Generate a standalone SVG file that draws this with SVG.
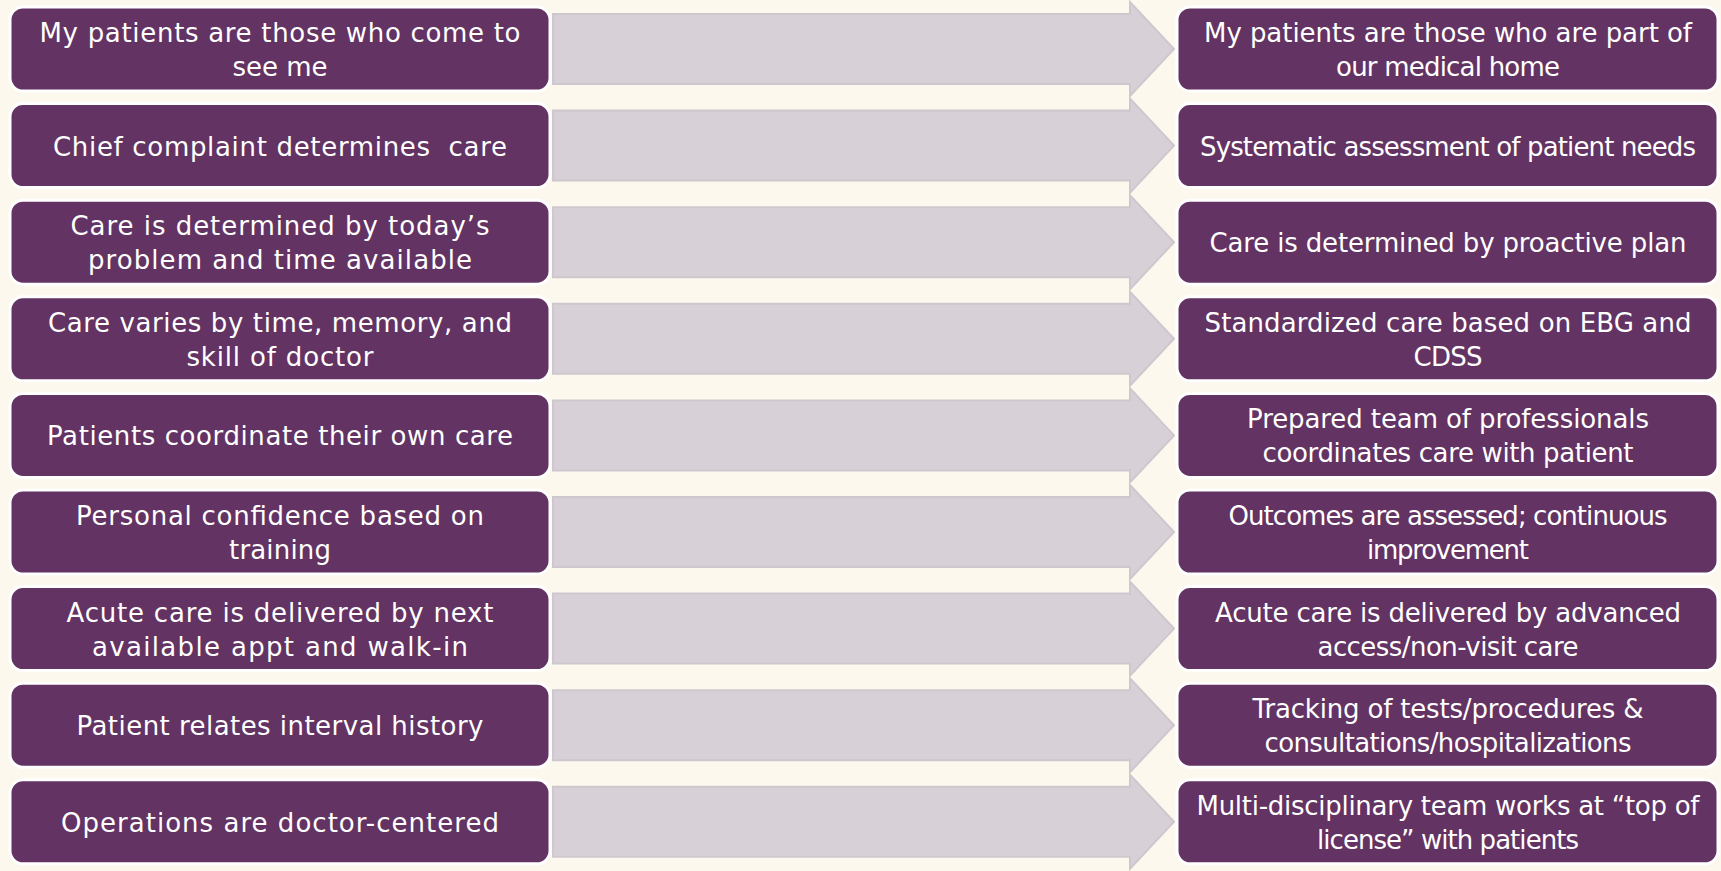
<svg xmlns="http://www.w3.org/2000/svg" width="1721" height="871" viewBox="0 0 1721 871">
<style>
.bg{fill:#fdf8ee}
.arrow{fill:#d7d1d7;stroke:#cec7ce;stroke-width:2}
.box{fill:#633363;stroke:#ffffff;stroke-width:3}
.t{font-family:"DejaVu Sans","Liberation Sans",sans-serif;font-size:26px;fill:#ffffff;text-anchor:middle}
</style>
<defs>
<path id="arr" d="M553,-35 H1130 V-47 L1174,0 L1130,47 V35 H553 Z"/>
</defs>
<rect class="bg" x="0" y="0" width="1721" height="871"/>
<g id="connectors">
<use href="#arr" class="arrow" transform="translate(0,49)"/>
<use href="#arr" class="arrow" transform="translate(0,145.6)"/>
<use href="#arr" class="arrow" transform="translate(0,242.2)"/>
<use href="#arr" class="arrow" transform="translate(0,338.8)"/>
<use href="#arr" class="arrow" transform="translate(0,435.4)"/>
<use href="#arr" class="arrow" transform="translate(0,532)"/>
<use href="#arr" class="arrow" transform="translate(0,628.6)"/>
<use href="#arr" class="arrow" transform="translate(0,725.2)"/>
<use href="#arr" class="arrow" transform="translate(0,821.8)"/>
</g>
<g id="L1"><rect class="box" x="10" y="7" width="540" height="84" rx="13"/><text class="t" x="280" y="42" textLength="481">My patients are those who come to</text><text class="t" x="280" y="76" textLength="95">see me</text></g>
<g id="L2"><rect class="box" x="10" y="103.6" width="540" height="84" rx="13"/><text class="t" x="280" y="155.6" textLength="454" style="white-space:pre">Chief complaint determines  care</text></g>
<g id="L3"><rect class="box" x="10" y="200.2" width="540" height="84" rx="13"/><text class="t" x="280" y="235.2" textLength="419">Care is determined by today’s</text><text class="t" x="280" y="269.2" textLength="384">problem and time available</text></g>
<g id="L4"><rect class="box" x="10" y="296.8" width="540" height="84" rx="13"/><text class="t" x="280" y="331.8" textLength="464">Care varies by time, memory, and</text><text class="t" x="280" y="365.8" textLength="187">skill of doctor</text></g>
<g id="L5"><rect class="box" x="10" y="393.4" width="540" height="84" rx="13"/><text class="t" x="280" y="445.4" textLength="466">Patients coordinate their own care</text></g>
<g id="L6"><rect class="box" x="10" y="490" width="540" height="84" rx="13"/><text class="t" x="280" y="525" textLength="408">Personal confidence based on</text><text class="t" x="280" y="559" textLength="102">training</text></g>
<g id="L7"><rect class="box" x="10" y="586.6" width="540" height="84" rx="13"/><text class="t" x="280" y="621.6" textLength="427">Acute care is delivered by next</text><text class="t" x="280" y="655.6" textLength="376">available appt and walk-in</text></g>
<g id="L8"><rect class="box" x="10" y="683.2" width="540" height="84" rx="13"/><text class="t" x="280" y="735.2" textLength="407">Patient relates interval history</text></g>
<g id="L9"><rect class="box" x="10" y="779.8" width="540" height="84" rx="13"/><text class="t" x="280" y="831.8" textLength="438">Operations are doctor-centered</text></g>
<g id="R1"><rect class="box" x="1177" y="7" width="541" height="84" rx="13"/><text class="t" x="1448" y="42" textLength="488">My patients are those who are part of</text><text class="t" x="1448" y="76" textLength="224">our medical home</text></g>
<g id="R2"><rect class="box" x="1177" y="103.6" width="541" height="84" rx="13"/><text class="t" x="1448" y="155.6" textLength="496">Systematic assessment of patient needs</text></g>
<g id="R3"><rect class="box" x="1177" y="200.2" width="541" height="84" rx="13"/><text class="t" x="1448" y="252.2" textLength="477">Care is determined by proactive plan</text></g>
<g id="R4"><rect class="box" x="1177" y="296.8" width="541" height="84" rx="13"/><text class="t" x="1448" y="331.8" textLength="487">Standardized care based on EBG and</text><text class="t" x="1448" y="365.8" textLength="69">CDSS</text></g>
<g id="R5"><rect class="box" x="1177" y="393.4" width="541" height="84" rx="13"/><text class="t" x="1448" y="428.4" textLength="402">Prepared team of professionals</text><text class="t" x="1448" y="462.4" textLength="371">coordinates care with patient</text></g>
<g id="R6"><rect class="box" x="1177" y="490" width="541" height="84" rx="13"/><text class="t" x="1448" y="525" textLength="439">Outcomes are assessed; continuous</text><text class="t" x="1448" y="559" textLength="162">improvement</text></g>
<g id="R7"><rect class="box" x="1177" y="586.6" width="541" height="84" rx="13"/><text class="t" x="1448" y="621.6" textLength="466">Acute care is delivered by advanced</text><text class="t" x="1448" y="655.6" textLength="261">access/non-visit care</text></g>
<g id="R8"><rect class="box" x="1177" y="683.2" width="541" height="84" rx="13"/><text class="t" x="1448" y="718.2" textLength="391">Tracking of tests/procedures &amp;</text><text class="t" x="1448" y="752.2" textLength="367">consultations/hospitalizations</text></g>
<g id="R9"><rect class="box" x="1177" y="779.8" width="541" height="84" rx="13"/><text class="t" x="1448" y="814.8" textLength="503">Multi-disciplinary team works at “top of</text><text class="t" x="1448" y="848.8" textLength="262">license” with patients</text></g>
</svg>
